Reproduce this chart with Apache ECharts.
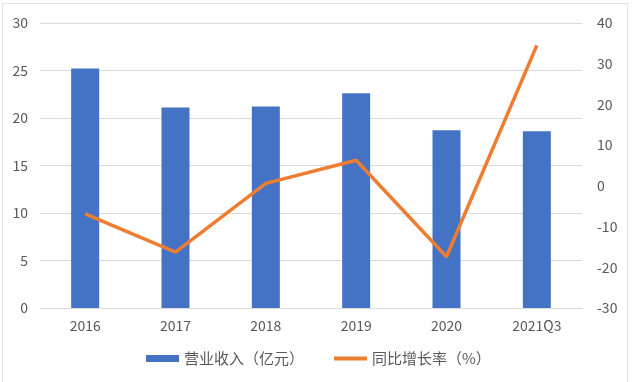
<!DOCTYPE html>
<html>
<head>
<meta charset="utf-8">
<script src="https://cdn.jsdelivr.net/npm/echarts@6/dist/echarts.min.js"></script>
<style>
html,body{margin:0;padding:0;background:#fff;}
#frame{position:absolute;left:2px;top:3px;width:626px;height:380px;border:1px solid #e3e3e3;box-sizing:border-box;}
#c{position:absolute;left:0;top:0;width:632px;height:382px;}
</style>
</head>
<body>
<div id="frame"></div>
<div id="c"></div>
<script>
const categories = ['2016','2017','2018','2019','2020','2021Q3'];
const revenue = [25.2, 21.1, 21.2, 22.6, 18.7, 18.6];
const growth = [-6.9, -16.3, 0.6, 6.3, -17.4, 34.5];
const revenueName = '营业收入（亿元）';
const growthName = '同比增长率（%）';
const leftTicks = {min:0, max:30, interval:5};
const rightTicks = {min:-30, max:40, interval:10};

const chart = echarts.init(document.getElementById('c'));
const font = '"Noto Sans CJK SC", "Noto Sans", sans-serif';
chart.setOption({
  animation:false,
  textStyle:{fontFamily:font},
  grid:{left:40, right:50, top:23, bottom:74},
  legend:{
    bottom:11, left:141, itemGap:30, itemWidth:33, itemHeight:7,
    textStyle:{color:'#595959', fontSize:15, fontFamily:font},
    data:[{name:revenueName, icon:'rect'}, {name:growthName, icon:'path://M0,0H33V4H0Z'}]
  },
  xAxis:{
    type:'category', data:categories,
    axisLine:{lineStyle:{color:'#d9d9d9'}},
    axisTick:{show:false},
    axisLabel:{color:'#595959', fontSize:14, margin:11, fontFamily:font}
  },
  yAxis:[
    {type:'value', min:leftTicks.min, max:leftTicks.max, interval:leftTicks.interval,
     axisLabel:{color:'#595959', fontSize:14, margin:12, fontFamily:font},
     splitLine:{lineStyle:{color:'#d9d9d9'}}, axisLine:{show:false}, axisTick:{show:false}},
    {type:'value', min:rightTicks.min, max:rightTicks.max, interval:rightTicks.interval,
     axisLabel:{color:'#595959', fontSize:14, margin:15, fontFamily:font},
     splitLine:{show:false}, axisLine:{show:false}, axisTick:{show:false}}
  ],
  series:[
    {name:revenueName, type:'bar', data:revenue, barWidth:28, itemStyle:{color:'#4472C4'}},
    {name:growthName, type:'line', yAxisIndex:1, data:growth, symbol:'none',
     lineStyle:{color:'#ED7D31', width:3.5}, itemStyle:{color:'#ED7D31'}}
  ]
});
</script>
</body>
</html>
